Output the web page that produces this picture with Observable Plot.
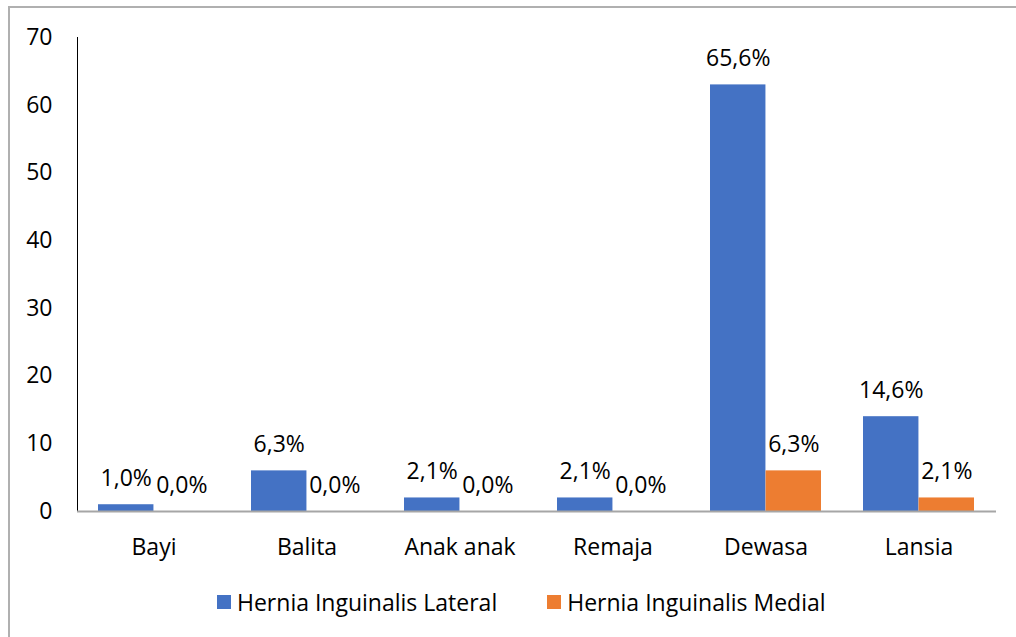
<!DOCTYPE html>
<html>
<head>
<meta charset="utf-8">
<script src="https://cdn.jsdelivr.net/npm/d3@7"></script>
<script src="https://cdn.jsdelivr.net/npm/@observablehq/plot@0.6"></script>
<style>
  html, body { margin: 0; padding: 0; background: #fff; }
  body { width: 1016px; height: 637px; position: relative; overflow: hidden; font-family: "Open Sans", sans-serif; }
  #frame { position: absolute; left: 8px; top: 6px; width: 1100px; height: 700px; border-left: 2px solid #b0b0b0; border-top: 2px solid #b0b0b0; }
  #chart { position: absolute; left: 0; top: 0; }
  #legend { position: absolute; left: 217px; top: 586px; display: flex; align-items: center; font-size: 23px; color: #000; white-space: nowrap; }
  .sw { width: 14px; height: 14px; display: inline-block; margin-right: 6px; }
  .item { display: flex; align-items: center; margin-right: 50px; }
</style>
</head>
<body>
<div id="frame"></div>
<div id="chart"></div>
<div id="legend"></div>
<script>
const categories = ["Bayi", "Balita", "Anak anak", "Remaja", "Dewasa", "Lansia"];
const seriesNames = ["Hernia Inguinalis Lateral", "Hernia Inguinalis Medial"];
const lateral = [1, 6, 2, 2, 63, 14];
const medial = [0, 0, 0, 0, 6, 2];
const lateralPct = ["1,0%", "6,3%", "2,1%", "2,1%", "65,6%", "14,6%"];
const medialPct = ["0,0%", "0,0%", "0,0%", "0,0%", "6,3%", "2,1%"];
const yTicks = [0, 10, 20, 30, 40, 50, 60, 70];
const colors = ["#4472C4", "#ED7D31"];

const latData = categories.map((c, i) => ({cat: c, value: lateral[i], label: lateralPct[i]}));
const medData = categories.map((c, i) => ({cat: c, value: medial[i], label: medialPct[i]}));

const W = 1016, H = 580, ML = 77, MR = 20, MT = 37, MB = 69;
const padIn = 0.2745;
const bw = (W - ML - MR) / categories.length * (1 - padIn);
const half = bw / 2;

const plot = Plot.plot({
  width: W, height: H,
  marginLeft: ML, marginRight: MR, marginTop: MT, marginBottom: MB,
  style: {fontFamily: "'Open Sans', sans-serif", fontSize: "23px", color: "#000", background: "transparent"},
  x: {domain: categories, paddingInner: padIn, paddingOuter: padIn / 2, label: null, tickSize: 0, tickPadding: 27},
  y: {domain: [0, 70], ticks: yTicks, label: null, tickSize: 0, tickPadding: 25, line: true},
  marks: [
    Plot.barY(latData, {x: "cat", y: "value", fill: colors[0], insetLeft: 0, insetRight: half}),
    Plot.barY(medData, {x: "cat", y: "value", fill: colors[1], insetLeft: half, insetRight: 0}),
    Plot.ruleY([0], {stroke: "#a6a6a6", strokeWidth: 2}),
    Plot.text(latData, {x: "cat", y: "value", text: "label", dx: -half / 2, dy: -26, fill: "#000", lineAnchor: "middle", textAnchor: "middle"}),
    Plot.text(medData, {x: "cat", y: "value", text: "label", dx: half / 2, dy: -26, fill: "#000", lineAnchor: "middle", textAnchor: "middle"})
  ]
});
document.getElementById("chart").appendChild(plot);
const yLine = d3.select(plot).selectAll("g[aria-label='y-axis line']");
yLine.attr("stroke", "#a6a6a6");
yLine.selectAll("path, line").attr("stroke", "#a6a6a6");

const legend = document.getElementById("legend");
seriesNames.forEach((s, i) => {
  const it = document.createElement("div");
  it.className = "item";
  const sw = document.createElement("span");
  sw.className = "sw";
  sw.style.background = colors[i];
  it.appendChild(sw);
  it.appendChild(document.createTextNode(s));
  legend.appendChild(it);
});
</script>
</body>
</html>
